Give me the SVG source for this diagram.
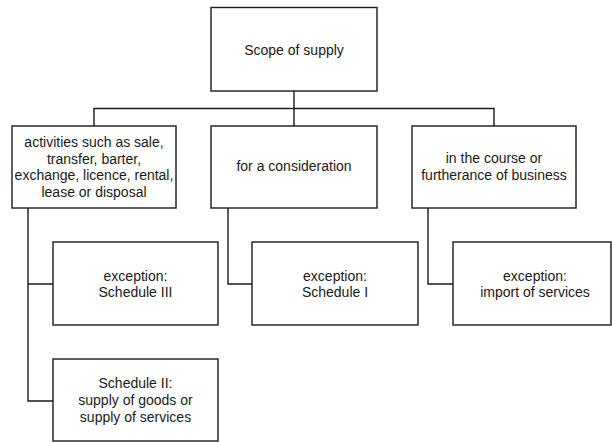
<svg xmlns="http://www.w3.org/2000/svg" width="612" height="442" viewBox="0 0 612 442">
<style>
.box{fill:#fff;stroke:#1a1a1a;stroke-width:1.4}
.con{fill:none;stroke:#1a1a1a;stroke-width:1.4}
text{font-family:"Liberation Sans",Arial,sans-serif;font-size:14px;fill:#1a1a1a;text-anchor:middle}
</style>
<rect width="612" height="442" fill="#fff"/>
<g id="connectors">
<path class="con" d="M294 91V108.5M94 126V108.5H494V126M294 108.5V126"/>
<path class="con" d="M28 208V401H53M28 284H53"/>
<path class="con" d="M228 208V284H252"/>
<path class="con" d="M428 208V284H453"/>
</g>
<g id="root">
<rect class="box" x="211" y="7.5" width="166" height="83.5"/>
<text x="294" y="55">Scope of supply</text>
</g>
<g id="activities">
<rect class="box" x="12" y="126" width="164" height="82"/>
<text x="94" y="147">activities such as sale,</text>
<text x="94" y="163.5">transfer, barter,</text>
<text x="94" y="180">exchange, licence, rental,</text>
<text x="94" y="196.5">lease or disposal</text>
</g>
<g id="consideration">
<rect class="box" x="211" y="126" width="166" height="82"/>
<text x="294" y="171">for a consideration</text>
</g>
<g id="business">
<rect class="box" x="412" y="126" width="164" height="82"/>
<text x="494" y="163">in the course or</text>
<text x="494" y="180">furtherance of business</text>
</g>
<g id="schedule3">
<rect class="box" x="53" y="242" width="165" height="83"/>
<text x="135.5" y="280.5">exception:</text>
<text x="135.5" y="297">Schedule III</text>
</g>
<g id="schedule1">
<rect class="box" x="252" y="242" width="166" height="83"/>
<text x="335" y="280.5">exception:</text>
<text x="335" y="297">Schedule I</text>
</g>
<g id="import">
<rect class="box" x="453" y="242" width="158" height="83"/>
<text x="535" y="280.5">exception:</text>
<text x="535" y="297">import of services</text>
</g>
<g id="schedule2">
<rect class="box" x="53" y="359" width="165" height="82"/>
<text x="135.5" y="387.5">Schedule II:</text>
<text x="135.5" y="404.5">supply of goods or</text>
<text x="135.5" y="421.5">supply of services</text>
</g>
</svg>
